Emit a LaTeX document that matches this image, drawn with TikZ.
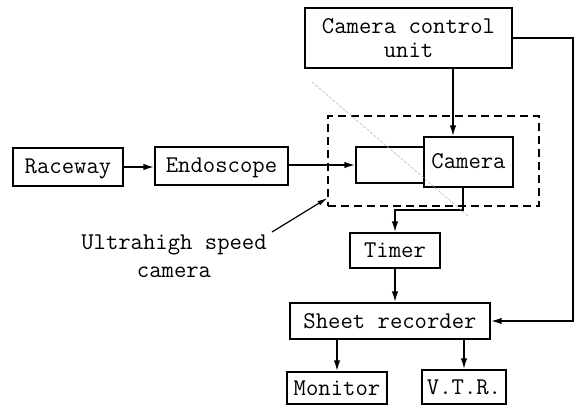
\documentclass[tikz,border=0pt]{standalone}
\usepackage{fontspec}
\usetikzlibrary{arrows.meta}
\newcommand{\labelfont}{\fontsize{24}{24}\selectfont\ttfamily\addfontfeatures{FakeBold=0.6}}
\begin{document}
\begin{tikzpicture}[x=1pt,y=-1pt,
  every node/.style={font=\labelfont},
  frame/.style={draw, line width=1.3pt, inner sep=0pt},
  box/.style={frame, text height=14pt, text depth=0pt},
  conn/.style={line width=1.8pt, -{Latex[length=11pt,width=6.5pt]}},
  pointer/.style={line width=1.2pt, -{Latex[length=10pt,width=5pt]}},
  group/.style={draw, line width=1.2pt, dash pattern=on 8pt off 5pt, inner sep=0pt}]
\useasboundingbox (0,0) rectangle (583,406);

% blocks
\node[box, minimum width=110pt, minimum height=38pt] (raceway) at (68,167) {Raceway};
\node[box, minimum width=133pt, minimum height=38pt] (endo) at (221.5,166) {Endoscope};
\node[frame, minimum width=207pt, minimum height=60pt, align=center]
  (ccu) at (408.5,38) {Camera control\\unit};
\node[group, minimum width=211pt, minimum height=90pt] (ush) at (433.5,161) {};
\node[box, minimum width=68pt, minimum height=36pt] (lens) at (390,165) {};
\node[box, minimum width=89pt, minimum height=50pt] (camera) at (468.5,162) {Camera};
\node[box, minimum width=90pt, minimum height=35pt] (timer) at (395,250.5) {Timer};
\node[box, minimum width=200pt, minimum height=36pt] (sheet) at (390,321) {Sheet recorder};
\node[box, minimum width=100pt, minimum height=32pt] (monitor) at (337,388) {Monitor};
\node[box, minimum width=84pt, minimum height=34pt] (vtr) at (464,387) {V.T.R.};
\node[align=center] (lbl) at (174,256) {Ultrahigh speed\\[4pt]camera};

% routing helpers
\coordinate (cx) at (453,0);
\coordinate (rx) at (573,0);
\coordinate (ox) at (463,0);
\coordinate (jog) at (0,210);
\coordinate (lt) at (272,232);
\coordinate (tip) at (0,198);

% connectors
\draw[conn] (raceway.east) -- (raceway.east -| endo.west);
\draw[conn] (endo.east |- lens.west) -- (lens.west);
\draw[conn] (ccu.south -| cx) -- (camera.north -| cx);
\draw[conn] (ccu.east) -| (rx |- sheet.east) -- (sheet.east);
\draw[conn] (camera.south -| ox) -- (ox |- jog) -| (timer.north);
\draw[conn] (timer.south) -- (timer.south |- sheet.north);
\draw[conn] (sheet.south -| monitor.north) -- (monitor.north);
\draw[conn] (sheet.south -| vtr.north) -- (vtr.north);
\draw[pointer] (lt) -- (ush.west |- tip);

% faint scratch across the camera group
\draw[gray!55, line width=0.6pt, dash pattern=on 3pt off 1.5pt] (312,82) -- (468,216);
\end{tikzpicture}
\end{document}
